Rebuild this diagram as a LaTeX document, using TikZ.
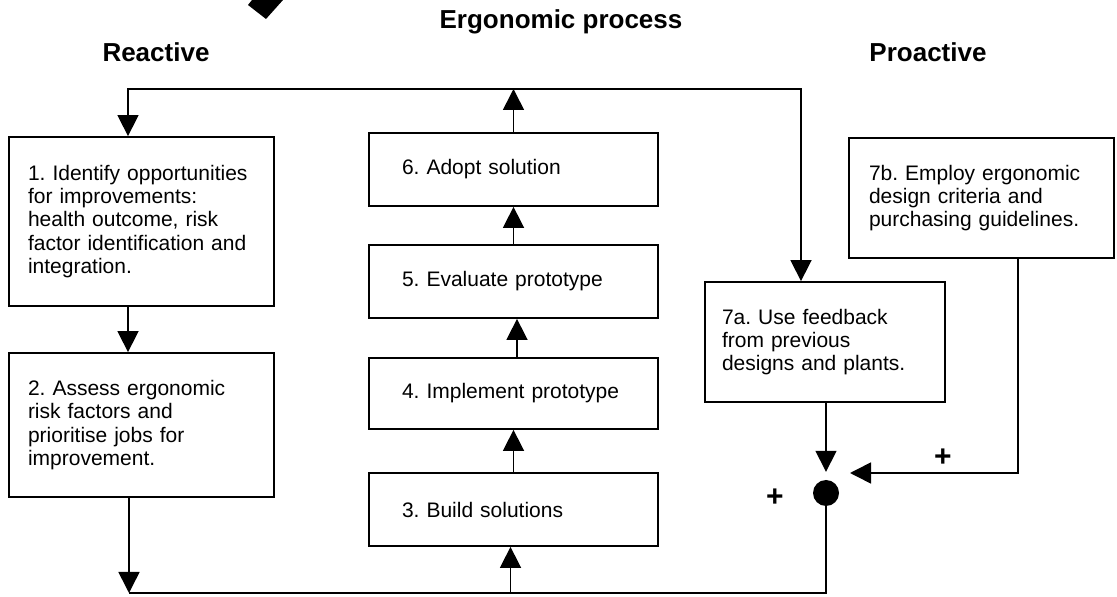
\documentclass[tikz,border=0pt]{standalone}
\usepackage{fontspec}
\setmainfont{Liberation Sans}
\usetikzlibrary{arrows.meta}
\frenchspacing

\begin{document}
\begin{tikzpicture}

  \tikzset{
    stepbox/.style={
      rectangle,
      draw=black,
      line width=1.8pt,
      inner xsep=#1,
      align=left,
      font=\fontsize{21}{23.3}\selectfont
    },
    heading/.style={
      font=\bfseries\fontsize{26}{30}\selectfont
    },
    plus/.style={
      font=\bfseries\fontsize{30}{30}\selectfont
    },
    arr/.style={
      line width=1.6pt,
      -{Triangle[width=21pt,length=21pt]}
    },
    link/.style={
      line width=1.6pt
    }
  }

  \useasboundingbox (0pt,0pt) rectangle (1117pt,597pt);

  % top marker
  \fill (252pt,597pt) -- (248pt,592pt) -- (266pt,578pt) -- (283pt,597pt) -- cycle;

  \node[heading] (title) at (561pt, 575pt) {Ergonomic process};
  \node[heading] (reactive) at (156pt, 545pt) {Reactive};
  \node[heading] (proactive) at (928pt, 545pt) {Proactive};

  \node[stepbox=19pt, minimum width=265pt, minimum height=169pt, text width=227pt] (s1) at (141.5pt, 375.5pt)
    {1. Identify opportunities\\for improvements:\\health outcome, risk\\factor identification and\\integration.};
  \node[stepbox=19pt, minimum width=265pt, minimum height=144pt, text width=227pt] (s2) at (141.5pt, 172pt)
    {2. Assess ergonomic\\risk factors and\\prioritise jobs for\\improvement.};

  \node[stepbox=33pt, minimum width=289pt, minimum height=73pt, text width=223pt] (s6) at (513.5pt, 427.5pt) {6. Adopt solution};
  \node[stepbox=33pt, minimum width=289pt, minimum height=73pt, text width=223pt] (s5) at (513.5pt, 315.5pt) {5. Evaluate prototype};
  \node[stepbox=33pt, minimum width=289pt, minimum height=71pt, text width=223pt] (s4) at (513.5pt, 203.5pt) {4. Implement prototype};
  \node[stepbox=33pt, minimum width=289pt, minimum height=73pt, text width=223pt] (s3) at (513.5pt, 87.5pt) {3. Build solutions};

  \node[stepbox=17pt, minimum width=240pt, minimum height=120pt, text width=206pt] (s7a) at (825pt, 255pt)
    {7a. Use feedback\\from previous\\designs and plants.};
  \node[stepbox=20pt, minimum width=265pt, minimum height=120pt, text width=225pt] (s7b) at (981.5pt, 399pt)
    {7b. Employ ergonomic\\design criteria and\\purchasing guidelines.};

  \node[circle, fill=black, minimum size=26pt, inner sep=0pt] (sum) at (826pt, 104pt) {};
  \node[plus] (plusA) at (943pt, 139pt) {+};
  \node[plus] (plusB) at (775pt, 99pt) {+};

  \coordinate (tl) at (128pt, 508pt);
  \coordinate (tr) at (801pt, 508pt);
  \coordinate (bl) at (129pt, 4pt);
  \coordinate (rc) at (1018pt, 124pt);
  \coordinate (rj) at (850pt, 124pt);

  % reactive loop
  \draw[link, {Triangle[width=21pt,length=21pt]}-{Triangle[width=21pt,length=21pt]}]
    (tl |- s1.north) -- (tl) -- (tr) -- (tr |- s7a.north);
  \draw[arr] (s1.south -| tl) -- (s2.north -| tl);
  \draw[arr] (s2.south -| bl) -- (bl);
  \draw[link] (bl) -- (bl -| sum) -- (sum);

  % solution column
  \draw[arr] ([xshift=-3pt]s3.south |- bl) -- ([xshift=-3pt]s3.south);
  \draw[arr] (s3) -- (s4);
  \draw[arr] ([xshift=3.5pt]s4.north) -- ([xshift=3.5pt]s5.south);
  \draw[arr] (s5) -- (s6);
  \draw[arr] (s6.north) -- (s6.north |- tl);

  % proactive inputs
  \draw[arr, shorten >=8pt] (s7a.south -| sum) -- (sum);
  \draw[arr] (s7b.south -| rc) -- (rc) -- (rj);

\end{tikzpicture}
\end{document}
